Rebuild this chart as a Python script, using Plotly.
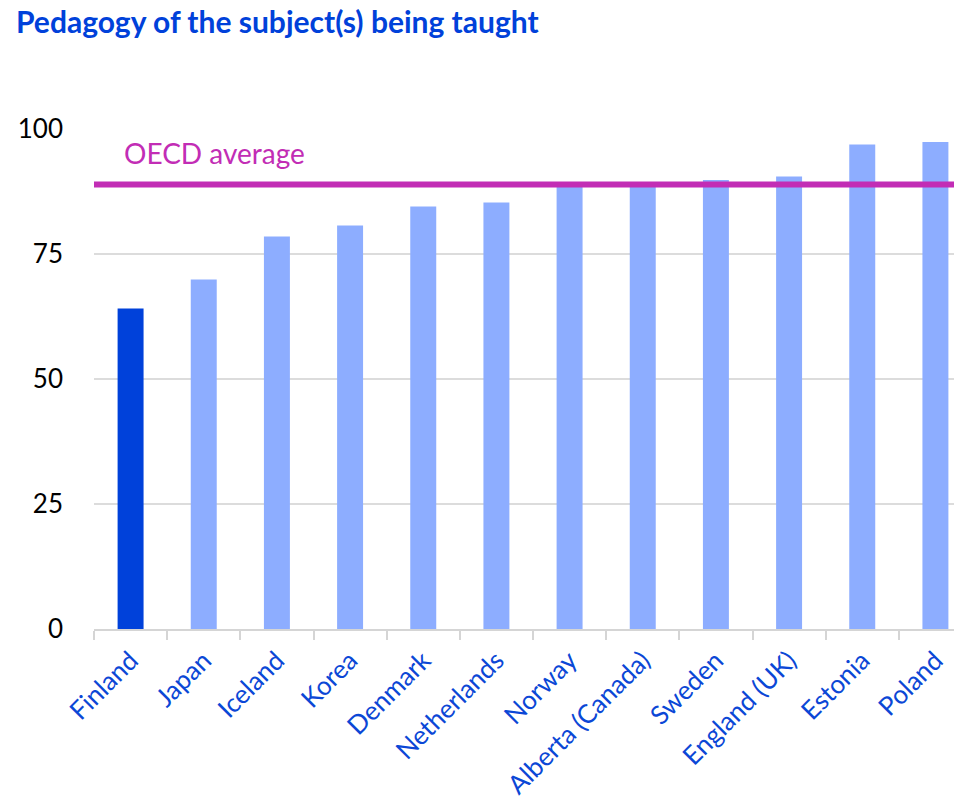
import plotly.graph_objects as go

countries = ["Finland", "Japan", "Iceland", "Korea", "Denmark", "Netherlands",
             "Norway", "Alberta (Canada)", "Sweden", "England (UK)", "Estonia", "Poland"]
values = [64.1, 69.9, 78.5, 80.7, 84.5, 85.3, 88.7, 88.9, 89.8, 90.5, 96.9, 97.4]
oecd_average = 88.9
highlight = "Finland"
y_ticks = [0, 25, 50, 75, 100]

LIGHT = "#8DADFF"
DARK = "#0041DA"
MAGENTA = "#C22DB5"
LABEL_BLUE = "#0B47D6"
FONT = "Lato"

colors = [DARK if c == highlight else LIGHT for c in countries]

fig = go.Figure()
fig.add_trace(go.Bar(x=countries, y=values, marker=dict(color=colors, line=dict(width=0)),
                     width=0.355, hoverinfo="x+y"))

fig.add_shape(type="line", xref="paper", x0=0, x1=1, yref="y", y0=oecd_average, y1=oecd_average,
              line=dict(color=MAGENTA, width=6), layer="above")
fig.add_annotation(text="OECD average", xref="x", x=-0.115, yref="y", y=95.3,
                   xanchor="left", yanchor="middle", showarrow=False,
                   font=dict(family=FONT, size=28, color=MAGENTA))

fig.update_layout(
    width=954, height=799,
    margin=dict(l=94, r=0, t=129, b=170),
    paper_bgcolor="white", plot_bgcolor="white",
    showlegend=False,
    title=dict(text="<b>Pedagogy of the subject(s) being taught</b>",
               x=16/954, xanchor="left", xref="container", y=1-22/799, yanchor="middle", yref="container",
               font=dict(family=FONT, size=30, color=DARK)),
    bargap=0.64,
)
fig.update_xaxes(type="category", range=[-0.5, 11.254], tickangle=-45,
                 tickfont=dict(family=FONT, size=26, color=LABEL_BLUE),
                 showline=True, linecolor="#D5D5D5", linewidth=2,
                 ticks="outside", tickson="boundaries", ticklen=9, tickcolor="#D5D5D5", tickwidth=2,
                 ticklabelstandoff=4,
                 showgrid=False, fixedrange=True)
fig.update_yaxes(range=[0, 100], tickvals=y_ticks, ticktext=[str(t) for t in y_ticks],
                 tickfont=dict(family=FONT, size=26, color="black"),
                 showgrid=True, gridcolor="#DCDCDC", gridwidth=2,
                 zeroline=False, showline=False, ticks="", ticklabelstandoff=30)

fig.write_html("out.html", post_script="document.body.style.margin='0';",
               config={"displayModeBar": False})
